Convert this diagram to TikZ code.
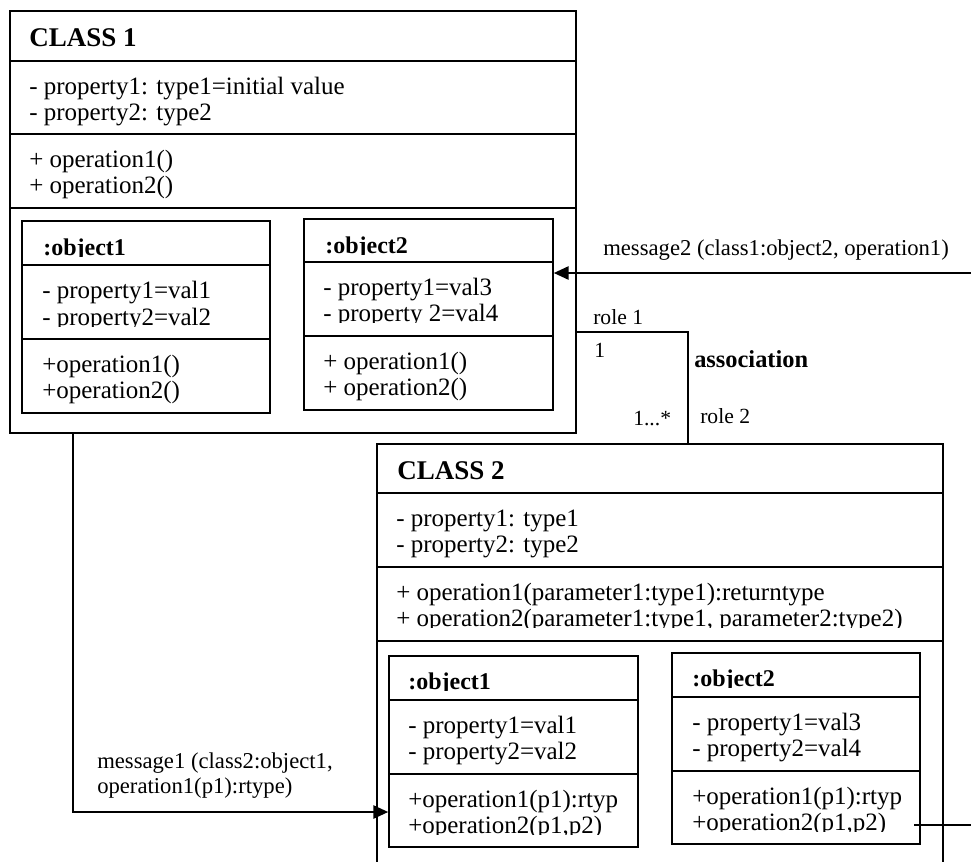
\documentclass[tikz,border=0pt]{standalone}
\usepackage{fontspec}
\setmainfont{Liberation Serif}
\usetikzlibrary{arrows.meta,fit}
\newcommand\mycliptext[5]{%
  \begin{scope}
    \clip (#2-6,#3-40) rectangle (#2+620,#3+1.5);
    \node[#4] (#1) at (#2,#3) {#5};
  \end{scope}}
\begin{document}
\begin{tikzpicture}[x=0.75pt,y=-0.75pt,
  box/.style={draw=black,line width=1.3pt,inner sep=0pt,fill=none},
  rule/.style={draw=black,line width=1.3pt},
  conn/.style={draw=black,line width=1pt},
  arr/.style={conn,-{Triangle[length=11pt,width=10pt]}},
  txt/.style={inner sep=0pt,anchor=base west,font=\fontsize{18.75pt}{20pt}\selectfont},
  chead/.style={txt,font=\fontsize{20.25pt}{22pt}\selectfont\bfseries},
  ohead/.style={txt,font=\fontsize{18pt}{20pt}\selectfont\bfseries},
  msgtxt/.style={txt,font=\fontsize{17pt}{19pt}\selectfont},
  roletxt/.style={txt,font=\fontsize{16.2pt}{18pt}\selectfont},
  asstxt/.style={txt,font=\fontsize{18.3pt}{20pt}\selectfont\bfseries}]
\useasboundingbox (0,0) rectangle (971,861);
\clip (0,0) rectangle (971,861);

% ---------- CLASS 1 ----------
\node[box,fit={(10,11) (576,433)}] (c1) {};
\draw[rule] (10,61) -- (576,61);
\draw[rule] (10,134) -- (576,134);
\draw[rule] (10,208) -- (576,208);
\node[chead] (c1h) at (29,46) {CLASS 1};
\node[txt] (c1a1) at (29,94) {- property1: type1=initial value};
\node[txt] (c1a2) at (29,120) {- property2: type2};
\node[txt] (c1o1) at (29,167) {+ operation1()};
\node[txt] (c1o2) at (29,193) {+ operation2()};

% object1 in class 1
\node[box,fit={(22,221) (270,413)}] (c1ob1) {};
\draw[rule] (22,265) -- (270,265);
\draw[rule] (22,339) -- (270,339);
\mycliptext{c1ob1h}{43}{255}{ohead}{:object1}
\node[txt] (c1ob1a1) at (42,298) {- property1=val1};
\mycliptext{c1ob1a2}{42}{325}{txt}{- property2=val2}
\node[txt] (c1ob1o1) at (42,372) {+operation1()};
\node[txt] (c1ob1o2) at (42,398) {+operation2()};

% object2 in class 1
\node[box,fit={(304,219) (553,410)}] (c1ob2) {};
\draw[rule] (304,262) -- (553,262);
\draw[rule] (304,336) -- (553,336);
\mycliptext{c1ob2h}{325}{253}{ohead}{:object2}
\node[txt] (c1ob2a1) at (323,295) {- property1=val3};
\mycliptext{c1ob2a2}{323}{321}{txt}{- property 2=val4}
\node[txt] (c1ob2o1) at (323,369) {+ operation1()};
\node[txt] (c1ob2o2) at (323,395) {+ operation2()};

% ---------- CLASS 2 ----------
\node[box,fit={(377,444) (943,900)}] (c2) {};
\draw[rule] (377,493) -- (943,493);
\draw[rule] (377,567) -- (943,567);
\draw[rule] (377,641) -- (943,641);
\node[chead] (c2h) at (397,479) {CLASS 2};
\node[txt] (c2a1) at (396,526) {- property1: type1};
\node[txt] (c2a2) at (396,552) {- property2: type2};
\node[txt] (c2o1) at (396,600) {+ operation1(parameter1:type1):returntype};
\mycliptext{c2o2}{396}{626}{txt}{+ operation2(parameter1:type1, parameter2:type2)}

% object1 in class 2
\node[box,fit={(389,656) (638,847)}] (c2ob1) {};
\draw[rule] (389,700) -- (638,700);
\draw[rule] (389,774) -- (638,774);
\mycliptext{c2ob1h}{408}{689}{ohead}{:object1}
\node[txt] (c2ob1a1) at (408,733) {- property1=val1};
\node[txt] (c2ob1a2) at (408,759) {- property2=val2};
\node[txt] (c2ob1o1) at (408,807) {+operation1(p1):rtyp};
\mycliptext{c2ob1o2}{408}{833}{txt}{+operation2(p1,p2)}

% object2 in class 2
\node[box,fit={(672,653) (920,844)}] (c2ob2) {};
\draw[rule] (672,697) -- (920,697);
\draw[rule] (672,771) -- (920,771);
\mycliptext{c2ob2h}{692}{686}{ohead}{:object2}
\node[txt] (c2ob2a1) at (692,730) {- property1=val3};
\node[txt] (c2ob2a2) at (692,756) {- property2=val4};
\node[txt] (c2ob2o1) at (692,804) {+operation1(p1):rtyp};
\mycliptext{c2ob2o2}{692}{830}{txt}{+operation2(p1,p2)}

% ---------- connectors ----------
% message 2
\coordinate (m2start) at (975,273);
\draw[arr] (m2start) -- (m2start -| c1ob2.east);
\node[msgtxt] (m2lab) at (603,255) {message2 (class1:object2, operation1)};

% association
\coordinate (asy) at (0,332);
\coordinate (asx) at (688,0);
\draw[conn] (c1.east |- asy) -| (c2.north -| asx);
\node[roletxt] (r1) at (593,324) {role 1};
\node[roletxt] (mult1) at (594,357) {1};
\node[roletxt] (mult2) at (633,425) {1...*};
\node[roletxt] (r2) at (700,423) {role 2};
\node[asstxt] (assoc) at (694,367) {association};

% message 1
\coordinate (m1x) at (73,0);
\coordinate (m1y) at (0,812);
\draw[arr] (c1.south -| m1x) |- (c2ob1.west |- m1y);
\node[msgtxt] (m1a) at (97,768) {message1 (class2:object1,};
\node[msgtxt] (m1b) at (97,793) {operation1(p1):rtype)};

% outgoing line bottom right
\coordinate (brs) at (914,825);
\coordinate (bre) at (975,825);
\draw[conn] (brs) -- (bre);
\end{tikzpicture}
\end{document}
